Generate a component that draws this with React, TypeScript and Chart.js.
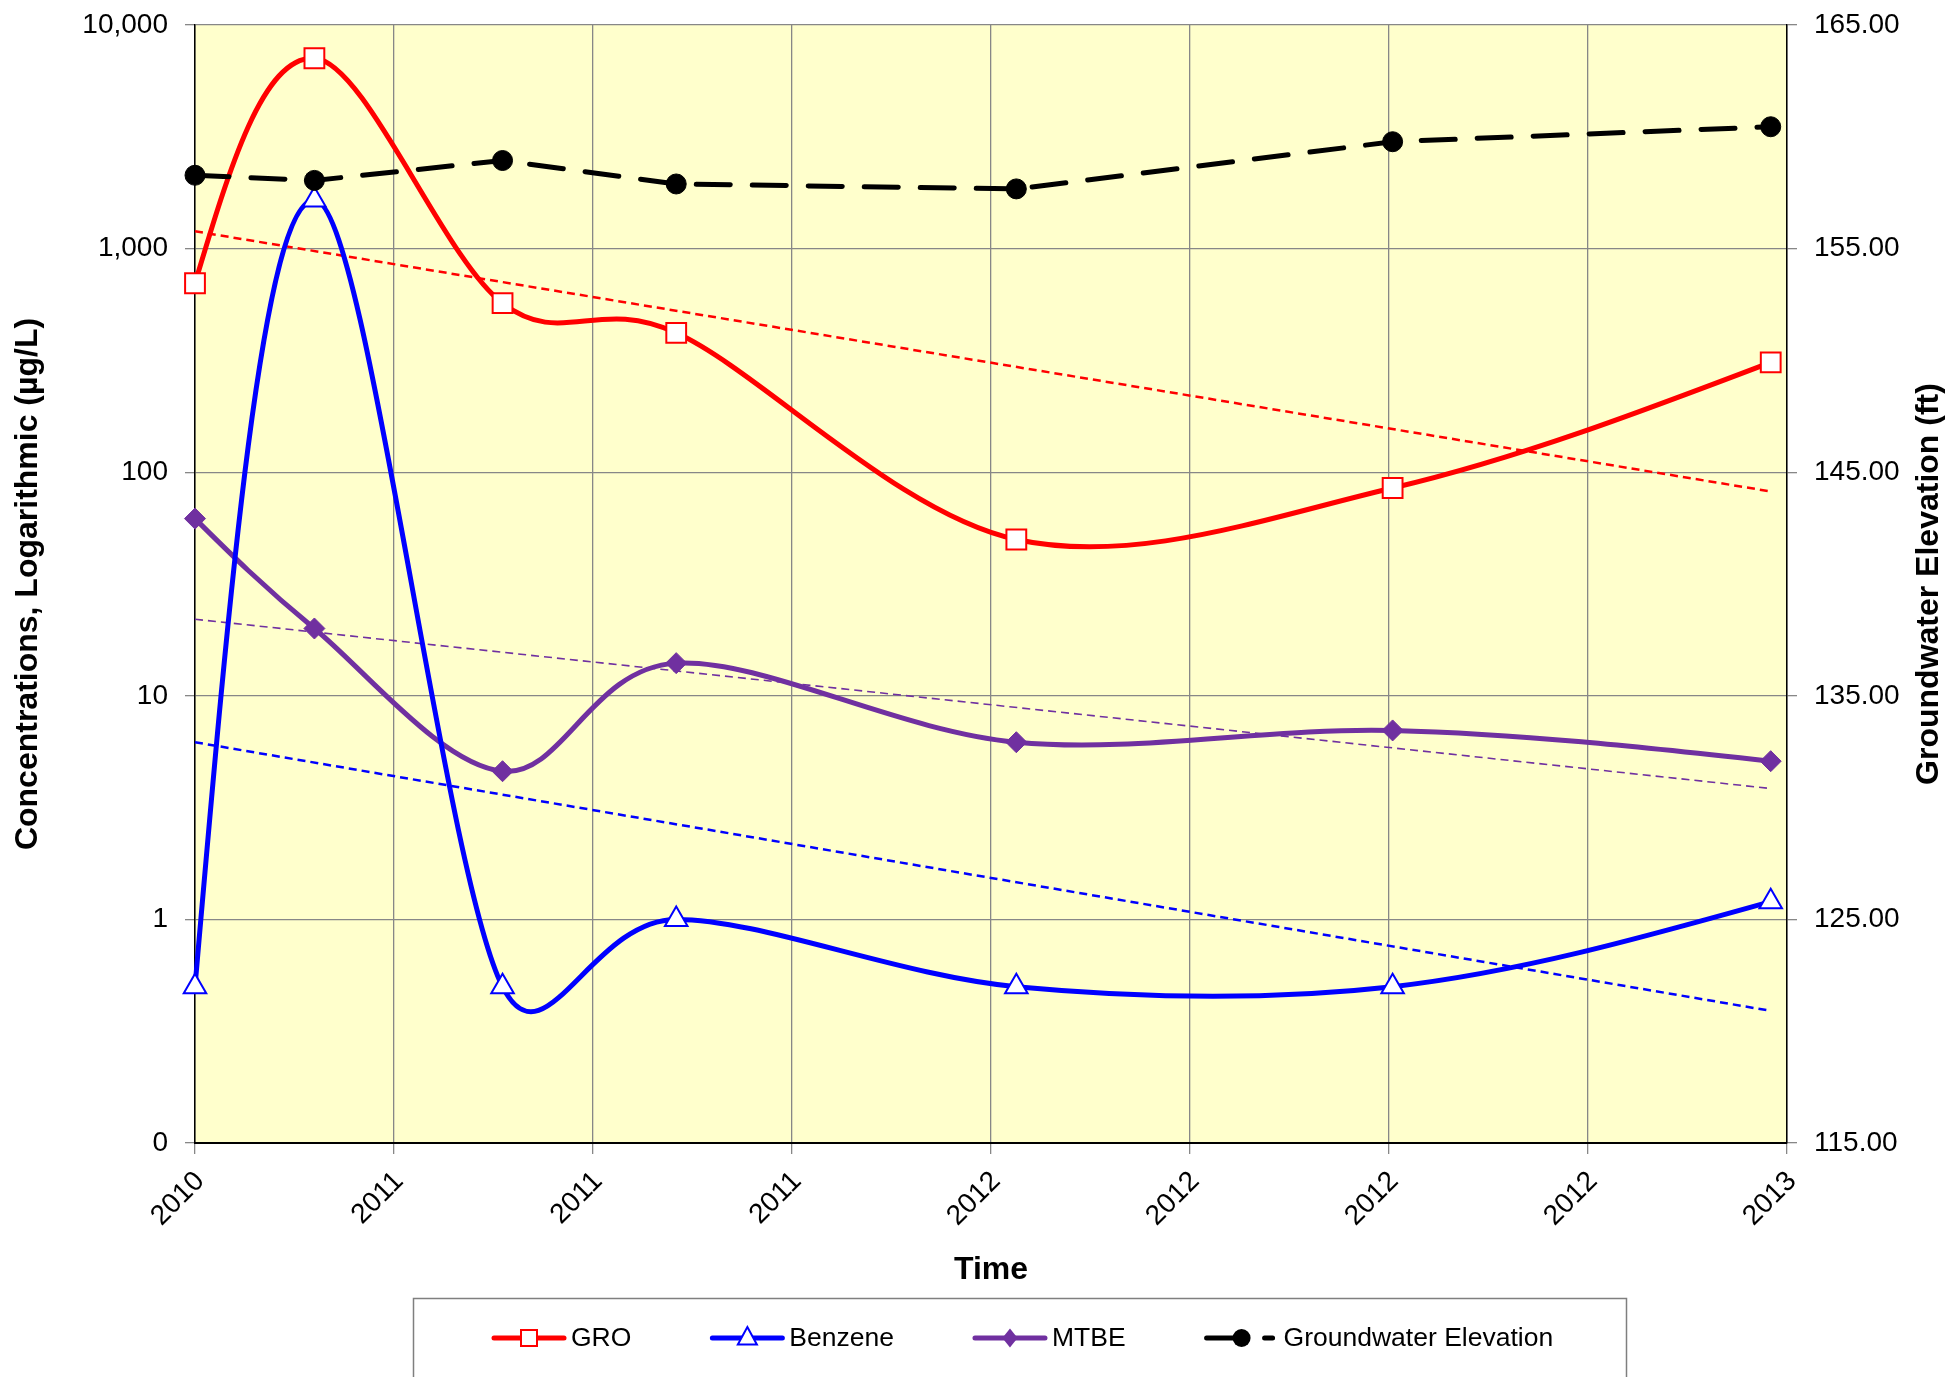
import React, { useEffect, useRef } from "react";
import { Chart, registerables } from "chart.js";

Chart.register(...registerables);

// ---- Data ----
const sampleDates = ["2010-11-01", "2011-01-06", "2011-04-20", "2011-07-25", "2012-01-29", "2012-08-24", "2013-03-21"];
const groValues = [700, 7100, 570, 420, 50, 85, 310];
const benzeneValues = [0.5, 1650, 0.5, 1.0, 0.5, 0.5, 1.2];
const mtbeValues = [62, 20, 4.6, 14, 6.2, 7.0, 5.1];
const groundwaterValues = [158.28, 158.05, 158.94, 157.89, 157.67, 159.78, 160.45];

const trendDates = ["2010-11-01", "2013-03-21"];
const groTrend = [1195, 82];
const benzeneTrend = [6.2, 0.39];
const mtbeTrend = [22, 3.85];

const xAxisStart = "2010-11-01";
const xAxisEnd = "2013-03-30";
const xTickStepDays = 110;

const concTickValues = [0.1, 1, 10, 100, 1000, 10000];
const concTickLabels = ["0", "1", "10", "100", "1,000", "10,000"];
const elevMin = 115;
const elevMax = 165;
const elevStep = 10;

const seriesNames = ["GRO", "Benzene", "MTBE", "Groundwater Elevation"];
const xTitle = "Time";
const leftTitle = "Concentrations, Logarithmic (\u00b5g/L)";
const rightTitle = "Groundwater Elevation (ft)";

// ---- Styles ----
const RED = "#FF0000";
const BLUE = "#0000FF";
const PURPLE = "#7030A0";
const BLACK = "#000000";
const GRID = "#878787";
const FONT = '"Liberation Sans", Arial, Helvetica, sans-serif';
const DAY = 86400000;

const toTime = (s: string) => Date.parse(s + "T00:00:00Z");

function drawMarker(ctx: CanvasRenderingContext2D, kind: string, x: number, y: number, color: string) {
  ctx.save();
  ctx.setLineDash([]);
  ctx.beginPath();
  if (kind === "square") {
    const s = 8;
    ctx.rect(x - s, y - s, 2 * s, 2 * s);
    ctx.fillStyle = "#fff";
    ctx.fill();
    ctx.lineWidth = 2;
    ctx.strokeStyle = color;
    ctx.stroke();
  } else if (kind === "triangle") {
    const r = 11;
    ctx.moveTo(x, y - r);
    ctx.lineTo(x + r * 0.866, y + r * 0.5 + 1);
    ctx.lineTo(x - r * 0.866, y + r * 0.5 + 1);
    ctx.closePath();
    ctx.fillStyle = "#fff";
    ctx.fill();
    ctx.lineWidth = 2;
    ctx.strokeStyle = color;
    ctx.stroke();
  } else if (kind === "diamond") {
    const r = 9.5;
    ctx.moveTo(x, y - r);
    ctx.lineTo(x + r * 0.8, y);
    ctx.lineTo(x, y + r);
    ctx.lineTo(x - r * 0.8, y);
    ctx.closePath();
    ctx.fillStyle = color;
    ctx.fill();
  } else {
    ctx.arc(x, y, 9, 0, Math.PI * 2);
    ctx.fillStyle = color;
    ctx.fill();
  }
  ctx.restore();
}

export default function App() {
  const ref = useRef<HTMLCanvasElement>(null);

  useEffect(() => {
    document.body.style.margin = "0";
    const canvas = ref.current;
    if (!canvas) return;

    const xs = sampleDates.map(toTime);
    const pts = (vals: number[]) => vals.map((v, i) => ({ x: xs[i], y: v }));
    const txs = trendDates.map(toTime);
    const tpts = (vals: number[]) => vals.map((v, i) => ({ x: txs[i], y: v }));
    const xMin = toTime(xAxisStart);
    const xMax = toTime(xAxisEnd);

    const bgPlugin = {
      id: "bgPlugin",
      beforeDraw(chart: any) {
        const { ctx, chartArea: a, width, height } = chart;
        ctx.save();
        ctx.fillStyle = "#FFFFFF";
        ctx.fillRect(0, 0, width, height);
        ctx.fillStyle = "#FFFFCC";
        ctx.fillRect(a.left, a.top, a.right - a.left, a.bottom - a.top);
        ctx.restore();
      },
    };

    // Spreadsheet-style smoothing: Catmull-Rom tangents, handle lengths limited by the adjacent segment.
    const smoothPlugin = {
      id: "smoothPlugin",
      beforeDatasetDraw(chart: any, args: any) {
        const meta = args.meta;
        const ds = chart.data.datasets[args.index] as any;
        if (!ds || !ds.excelSmooth || !meta.dataset) return;
        const p = meta.data as any[];
        const n = p.length;
        if (n < 3) return;
        for (let i = 1; i < n - 1; i++) {
          const dx = (p[i + 1].x - p[i - 1].x) / 6;
          const dy = (p[i + 1].y - p[i - 1].y) / 6;
          const len = Math.hypot(dx, dy) || 1;
          const dIn = Math.hypot(p[i].x - p[i - 1].x, p[i].y - p[i - 1].y);
          const dOut = Math.hypot(p[i + 1].x - p[i].x, p[i + 1].y - p[i].y);
          const lin = Math.min(len, 0.5 * dIn);
          const lout = Math.min(len, 0.5 * dOut);
          const ux = dx / len;
          const uy = dy / len;
          p[i].cp1x = p[i].x - ux * lin;
          p[i].cp1y = p[i].y - uy * lin;
          p[i].cp2x = p[i].x + ux * lout;
          p[i].cp2y = p[i].y + uy * lout;
        }
        p[0].cp1x = p[0].x;
        p[0].cp1y = p[0].y;
        p[0].cp2x = (p[0].x + p[1].cp1x) / 2;
        p[0].cp2y = (p[0].y + p[1].cp1y) / 2;
        p[n - 1].cp2x = p[n - 1].x;
        p[n - 1].cp2y = p[n - 1].y;
        p[n - 1].cp1x = (p[n - 1].x + p[n - 2].cp2x) / 2;
        p[n - 1].cp1y = (p[n - 1].y + p[n - 2].cp2y) / 2;
        meta.dataset._pointsUpdated = true;
        meta.dataset._path = undefined;
      },
    };

    const legendItems = [
      { label: seriesNames[0], color: RED, kind: "square", dashed: false },
      { label: seriesNames[1], color: BLUE, kind: "triangle", dashed: false },
      { label: seriesNames[2], color: PURPLE, kind: "diamond", dashed: false },
      { label: seriesNames[3], color: BLACK, kind: "circle", dashed: true },
    ];

    const decorPlugin = {
      id: "decorPlugin",
      afterDraw(chart: any) {
        const { ctx, chartArea: a } = chart;
        // right axis title (reads bottom to top)
        ctx.save();
        ctx.font = `bold 32px ${FONT}`;
        ctx.fillStyle = BLACK;
        ctx.textAlign = "center";
        ctx.textBaseline = "middle";
        ctx.translate(1929, (a.top + a.bottom) / 2);
        ctx.rotate(-Math.PI / 2);
        ctx.fillText(rightTitle, 0, 0);
        ctx.restore();

        // legend
        ctx.save();
        ctx.strokeStyle = "#7f7f7f";
        ctx.lineWidth = 1.5;
        ctx.strokeRect(413.5, 1298.5, 1213, 200);
        const y = 1338;
        let x = 494;
        ctx.font = `26.5px ${FONT}`;
        for (const it of legendItems) {
          ctx.strokeStyle = it.color;
          ctx.lineWidth = 5;
          ctx.lineCap = "round";
          ctx.beginPath();
          if (it.dashed) {
            ctx.moveTo(x, y);
            ctx.lineTo(x + 36, y);
            ctx.moveTo(x + 58, y);
            ctx.lineTo(x + 66, y);
          } else {
            ctx.moveTo(x, y);
            ctx.lineTo(x + 70, y);
          }
          ctx.stroke();
          drawMarker(ctx, it.kind, x + 35, y, it.color);
          ctx.fillStyle = BLACK;
          ctx.textAlign = "left";
          ctx.textBaseline = "middle";
          ctx.fillText(it.label, x + 77, y + 1);
          x += 77 + ctx.measureText(it.label).width + 81;
        }
        ctx.restore();
      },
    };

    const mainLine = (color: string) => ({
      borderColor: color,
      backgroundColor: color,
      borderWidth: 5,
      tension: 0.4,
      excelSmooth: true,
      clip: false as any,
      yAxisID: "y",
    });
    const trendLine = (color: string, w: number) => ({
      borderColor: color,
      backgroundColor: color,
      borderWidth: w,
      borderDash: [8, 5],
      pointRadius: 0,
      tension: 0,
      clip: false as any,
      yAxisID: "y",
      order: 10,
    });

    const zeroPad = (scale: any) => {
      scale.paddingTop = 0;
      scale.paddingBottom = 0;
      scale.paddingLeft = 0;
      scale.paddingRight = 0;
    };

    const chart = new Chart(canvas, {
      type: "line",
      data: {
        datasets: [
          {
            label: seriesNames[3],
            data: pts(groundwaterValues),
            yAxisID: "y2",
            borderColor: BLACK,
            backgroundColor: BLACK,
            borderWidth: 5,
            borderDash: [34, 22],
            borderCapStyle: "round",
            pointStyle: "circle",
            pointRadius: 10,
            pointBorderWidth: 1,
            pointBackgroundColor: BLACK,
            pointBorderColor: BLACK,
            tension: 0,
            clip: false as any,
            order: 0,
          },
          {
            label: seriesNames[0],
            data: pts(groValues),
            ...mainLine(RED),
            pointStyle: "rect",
            pointRadius: 14,
            pointBorderWidth: 2,
            pointBackgroundColor: "#FFFFFF",
            pointBorderColor: RED,
            order: 1,
          },
          {
            label: seriesNames[1],
            data: pts(benzeneValues),
            ...mainLine(BLUE),
            pointStyle: "triangle",
            pointRadius: 13,
            pointBorderWidth: 2,
            pointBackgroundColor: "#FFFFFF",
            pointBorderColor: BLUE,
            order: 2,
          },
          {
            label: seriesNames[2],
            data: pts(mtbeValues),
            ...mainLine(PURPLE),
            pointStyle: "rectRot",
            pointRadius: 10.5,
            pointBorderWidth: 1,
            pointBackgroundColor: PURPLE,
            pointBorderColor: PURPLE,
            order: 3,
          },
          { label: "GRO trend", data: tpts(groTrend), ...trendLine(RED, 2.5) },
          { label: "Benzene trend", data: tpts(benzeneTrend), ...trendLine(BLUE, 2.5) },
          { label: "MTBE trend", data: tpts(mtbeTrend), ...trendLine(PURPLE, 1.6) },
        ] as any,
      },
      options: {
        responsive: false,
        animation: false,
        devicePixelRatio: 1,
        events: [],
        layout: { padding: { top: 25, left: 0, right: 0, bottom: 0 } },
        plugins: {
          legend: { display: false },
          tooltip: { enabled: false },
        },
        scales: {
          x: {
            type: "linear",
            min: xMin,
            max: xMax,
            afterBuildTicks: (scale: any) => {
              const t: any[] = [];
              for (let v = xMin; v <= xMax + 1000; v += xTickStepDays * DAY) t.push({ value: v });
              scale.ticks = t;
            },
            afterFit: (scale: any) => {
              scale.height = 234;
              zeroPad(scale);
            },
            ticks: {
              autoSkip: false,
              maxRotation: 45,
              minRotation: 45,
              padding: 11,
              labelOffset: 5,
              color: BLACK,
              font: { family: FONT, size: 28 },
              callback: (v: any) => String(new Date(Number(v)).getUTCFullYear()),
            },
            grid: { color: GRID, lineWidth: 1.3, tickLength: 11, drawOnChartArea: true },
            border: { color: BLACK, width: 2 },
            title: {
              display: true,
              text: xTitle,
              color: BLACK,
              font: { family: FONT, size: 32, weight: "bold" },
              padding: { top: 0, bottom: 88 },
            },
          },
          y: {
            type: "logarithmic",
            position: "left",
            min: concTickValues[0],
            max: concTickValues[concTickValues.length - 1],
            afterBuildTicks: (scale: any) => {
              scale.ticks = concTickValues.map((v) => ({ value: v }));
            },
            afterFit: (scale: any) => {
              scale.width = 195;
              zeroPad(scale);
            },
            ticks: {
              autoSkip: false,
              padding: 17,
              color: BLACK,
              font: { family: FONT, size: 28 },
              callback: (v: any) => {
                const i = concTickValues.findIndex((t) => Math.abs(t - Number(v)) < t * 1e-6);
                return i >= 0 ? concTickLabels[i] : "";
              },
            },
            grid: { color: GRID, lineWidth: 1.3, tickLength: 10 },
            border: { color: BLACK, width: 1.5 },
            title: {
              display: true,
              text: leftTitle,
              color: BLACK,
              font: { family: FONT, size: 32, weight: "bold" },
              padding: { top: 9, bottom: 0 },
            },
          },
          y2: {
            type: "linear",
            position: "right",
            min: elevMin,
            max: elevMax,
            afterFit: (scale: any) => {
              scale.width = 163;
              zeroPad(scale);
            },
            ticks: {
              stepSize: elevStep,
              autoSkip: false,
              padding: 17,
              color: BLACK,
              font: { family: FONT, size: 28 },
              callback: (v: any) => Number(v).toFixed(2),
            },
            grid: { drawOnChartArea: false, color: GRID, lineWidth: 1.3, tickLength: 10 },
            border: { color: BLACK, width: 1.5 },
          },
        },
      } as any,
      plugins: [bgPlugin, smoothPlugin, decorPlugin],
    });

    return () => {
      chart.destroy();
    };
  }, []);

  return <canvas ref={ref} width={1950} height={1377} style={{ display: "block" }} />;
}
